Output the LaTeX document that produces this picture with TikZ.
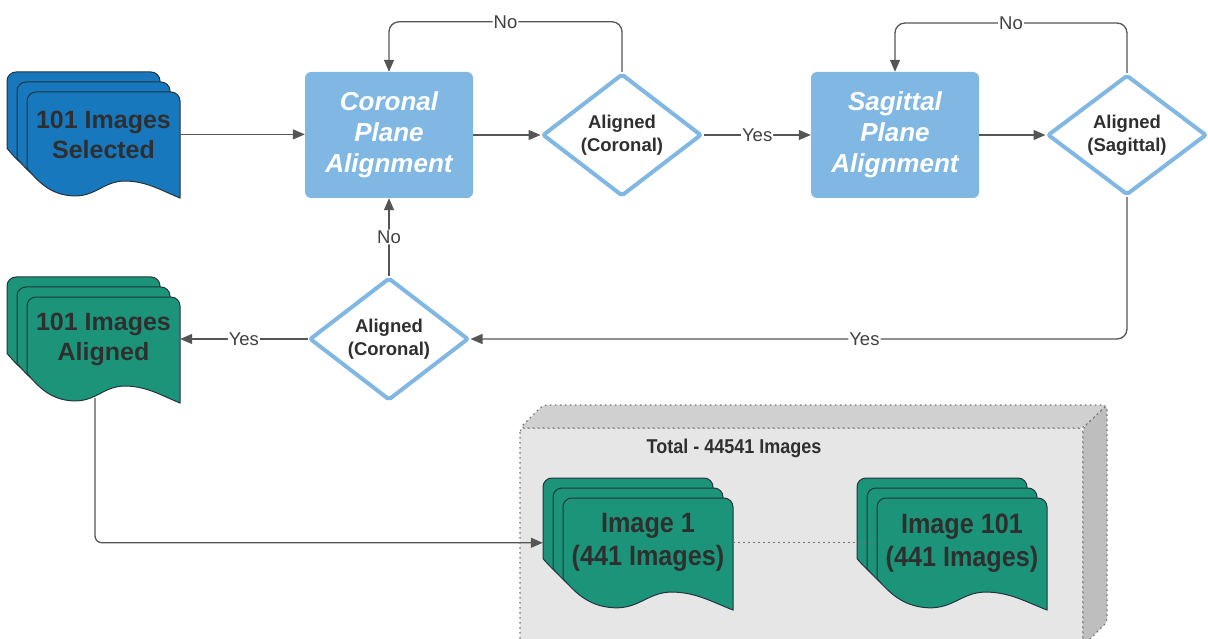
\documentclass[tikz,border=0pt]{standalone}
\usepackage{fontspec}
\setmainfont{Liberation Sans}
\newfontfamily\narrowfont[FakeStretch=0.9]{Liberation Sans}
\usetikzlibrary{positioning,shapes.geometric,arrows.meta}

\definecolor{docblue}{HTML}{1878BE}
\definecolor{docgreen}{HTML}{1C947A}
\definecolor{procblue}{HTML}{80B7E3}
\definecolor{inkgray}{HTML}{2F2F2F}
\definecolor{wiregray}{HTML}{555555}
\definecolor{sheetedge}{HTML}{24343C}
\definecolor{boxfront}{HTML}{E6E6E6}
\definecolor{boxtop}{HTML}{D0D0D0}
\definecolor{boxside}{HTML}{BEBEBE}

% one sheet of a document stack: top left (#1,#2), width #3, height #4, fill #5
\newcommand{\docsheet}[5]{%
  \filldraw[fill=#5, draw=sheetedge, line width=1]
    (#1,#2+0.72*#4) [rounded corners=9] -- (#1,#2) -- (#1+#3,#2) [sharp corners] -- (#1+#3,#2+#4)
    .. controls (#1+0.88*#3,#2+0.93*#4) and (#1+0.78*#3,#2+0.84*#4) .. (#1+0.64*#3,#2+0.84*#4)
    .. controls (#1+0.5*#3,#2+0.84*#4) and (#1+0.45*#3,#2+0.99*#4) .. (#1+0.3*#3,#2+0.98*#4)
    .. controls (#1+0.15*#3,#2+0.97*#4) and (#1+0.07*#3,#2+0.84*#4) .. (#1,#2+0.72*#4) -- cycle;}

% three sheets, text node #2 sits on the front one
\newcommand{\docstack}[8]{%
  \docsheet{#3-20}{#4-20}{#5}{#6}{#7}
  \docsheet{#3-10}{#4-10}{#5}{#6}{#7}
  \docsheet{#3}{#4}{#5}{#6}{#7}
  \node[#1, minimum width=#5] (#2) at (#3+0.5*#5, #4+0.4*#6) {#8};}

\begin{document}
\begin{tikzpicture}[x=1pt, y=-1pt, >={Triangle[length=12pt,width=10pt]}]
  \tikzstyle{proc} = [rectangle, rounded corners=6, fill=procblue, text=white, minimum width=168, minimum height=126, align=center, font=\bfseries\itshape\fontsize{26}{31}\selectfont]
  \tikzstyle{decide} = [diamond, draw=procblue, line width=4, fill=white, minimum width=159, minimum height=120, inner sep=0, rounded corners=2, text=inkgray, align=center, font=\bfseries\fontsize{18.5}{23}\selectfont]
  \tikzstyle{doctext} = [text=inkgray, inner sep=0, align=center, font=\bfseries\fontsize{25}{30}\selectfont]
  \tikzstyle{imgtext} = [text=inkgray, inner sep=0, align=center, font=\narrowfont\bfseries\fontsize{28}{33}\selectfont]
  \tikzstyle{wire} = [draw=wiregray, line width=1.3, rounded corners=10]
  \tikzstyle{lbl} = [fill=white, inner sep=1, text=black!75, font=\fontsize{18.5}{22}\selectfont]
  \useasboundingbox (0,0) rectangle (1208,639);

  % storage box
  \tikzstyle{boxface} = [draw=black!55, line width=1.2, dash pattern=on 1.5pt off 3.5pt, rounded corners=4]
  \filldraw[boxface, fill=boxfront] (520,428) rectangle (1083,660);
  \filldraw[boxface, fill=boxtop] (520,428) -- (543,405) -- (1107,405) -- (1083,428) -- cycle;
  \filldraw[boxface, fill=boxside] (1083,428) -- (1107,405) -- (1107,622) -- (1083,646) -- cycle;
  \node[text=inkgray, font=\narrowfont\bfseries\fontsize{20}{24}\selectfont] (total) at (734,448) {Total - 44541 Images};

  \docstack{imgtext}{imfirst}{563}{498}{170}{112}{docgreen}{Image 1\\(441 Images)}
  \docstack{imgtext}{imlast}{877}{498}{170}{112}{docgreen}{Image 101\\(441 Images)}
  \draw[draw=black!55, line width=1.2, dash pattern=on 1.5pt off 3.5pt] (imfirst.east) -- (imlast.west);

  \coordinate (foot) at (95,398);
  \draw[wire, rounded corners=7, ->] (foot) |- ([xshift=-20]imfirst.west);

  \docstack{doctext}{sel}{27}{92}{153}{106}{docblue}{101 Images\\Selected}
  \docstack{doctext}{done}{27}{297}{153}{106}{docgreen}{101 Images\\Aligned}

  \node[proc] (crn) at (389,135) {Coronal\\Plane\\Alignment};
  \node[decide] (dcor) at (622,135) {Aligned\\(Coronal)};
  \node[proc] (sag) at (895,135) {Sagittal\\Plane\\Alignment};
  \node[decide] (dsag) at (1127,135) {Aligned\\(Sagittal)};
  \node[decide] (dchk) at (389,339) {Aligned\\(Coronal)};

  \draw[wire, ->] (sel.east) -- (sel.east -| crn.west);
  \draw[wire, ->] (crn) -- (dcor);
  \draw[wire, ->] (dcor.north) -- ++(0,-50) -| node[lbl, pos=0.25] {No} (crn.north);
  \draw[wire, ->] (dcor) -- node[lbl] {Yes} (sag);
  \draw[wire, ->] (sag) -- (dsag);
  \draw[wire, ->] (dsag.north) -- ++(0,-50) -| node[lbl, pos=0.25] {No} (sag.north);
  \draw[wire, ->] (dsag.south) |- node[lbl, pos=0.7] {Yes} (dchk.east);
  \draw[wire, ->] (dchk) -- node[lbl] {No} (crn);
  \draw[wire, ->] (dchk) -- node[lbl] {Yes} (done.east |- dchk.west);
\end{tikzpicture}
\end{document}
